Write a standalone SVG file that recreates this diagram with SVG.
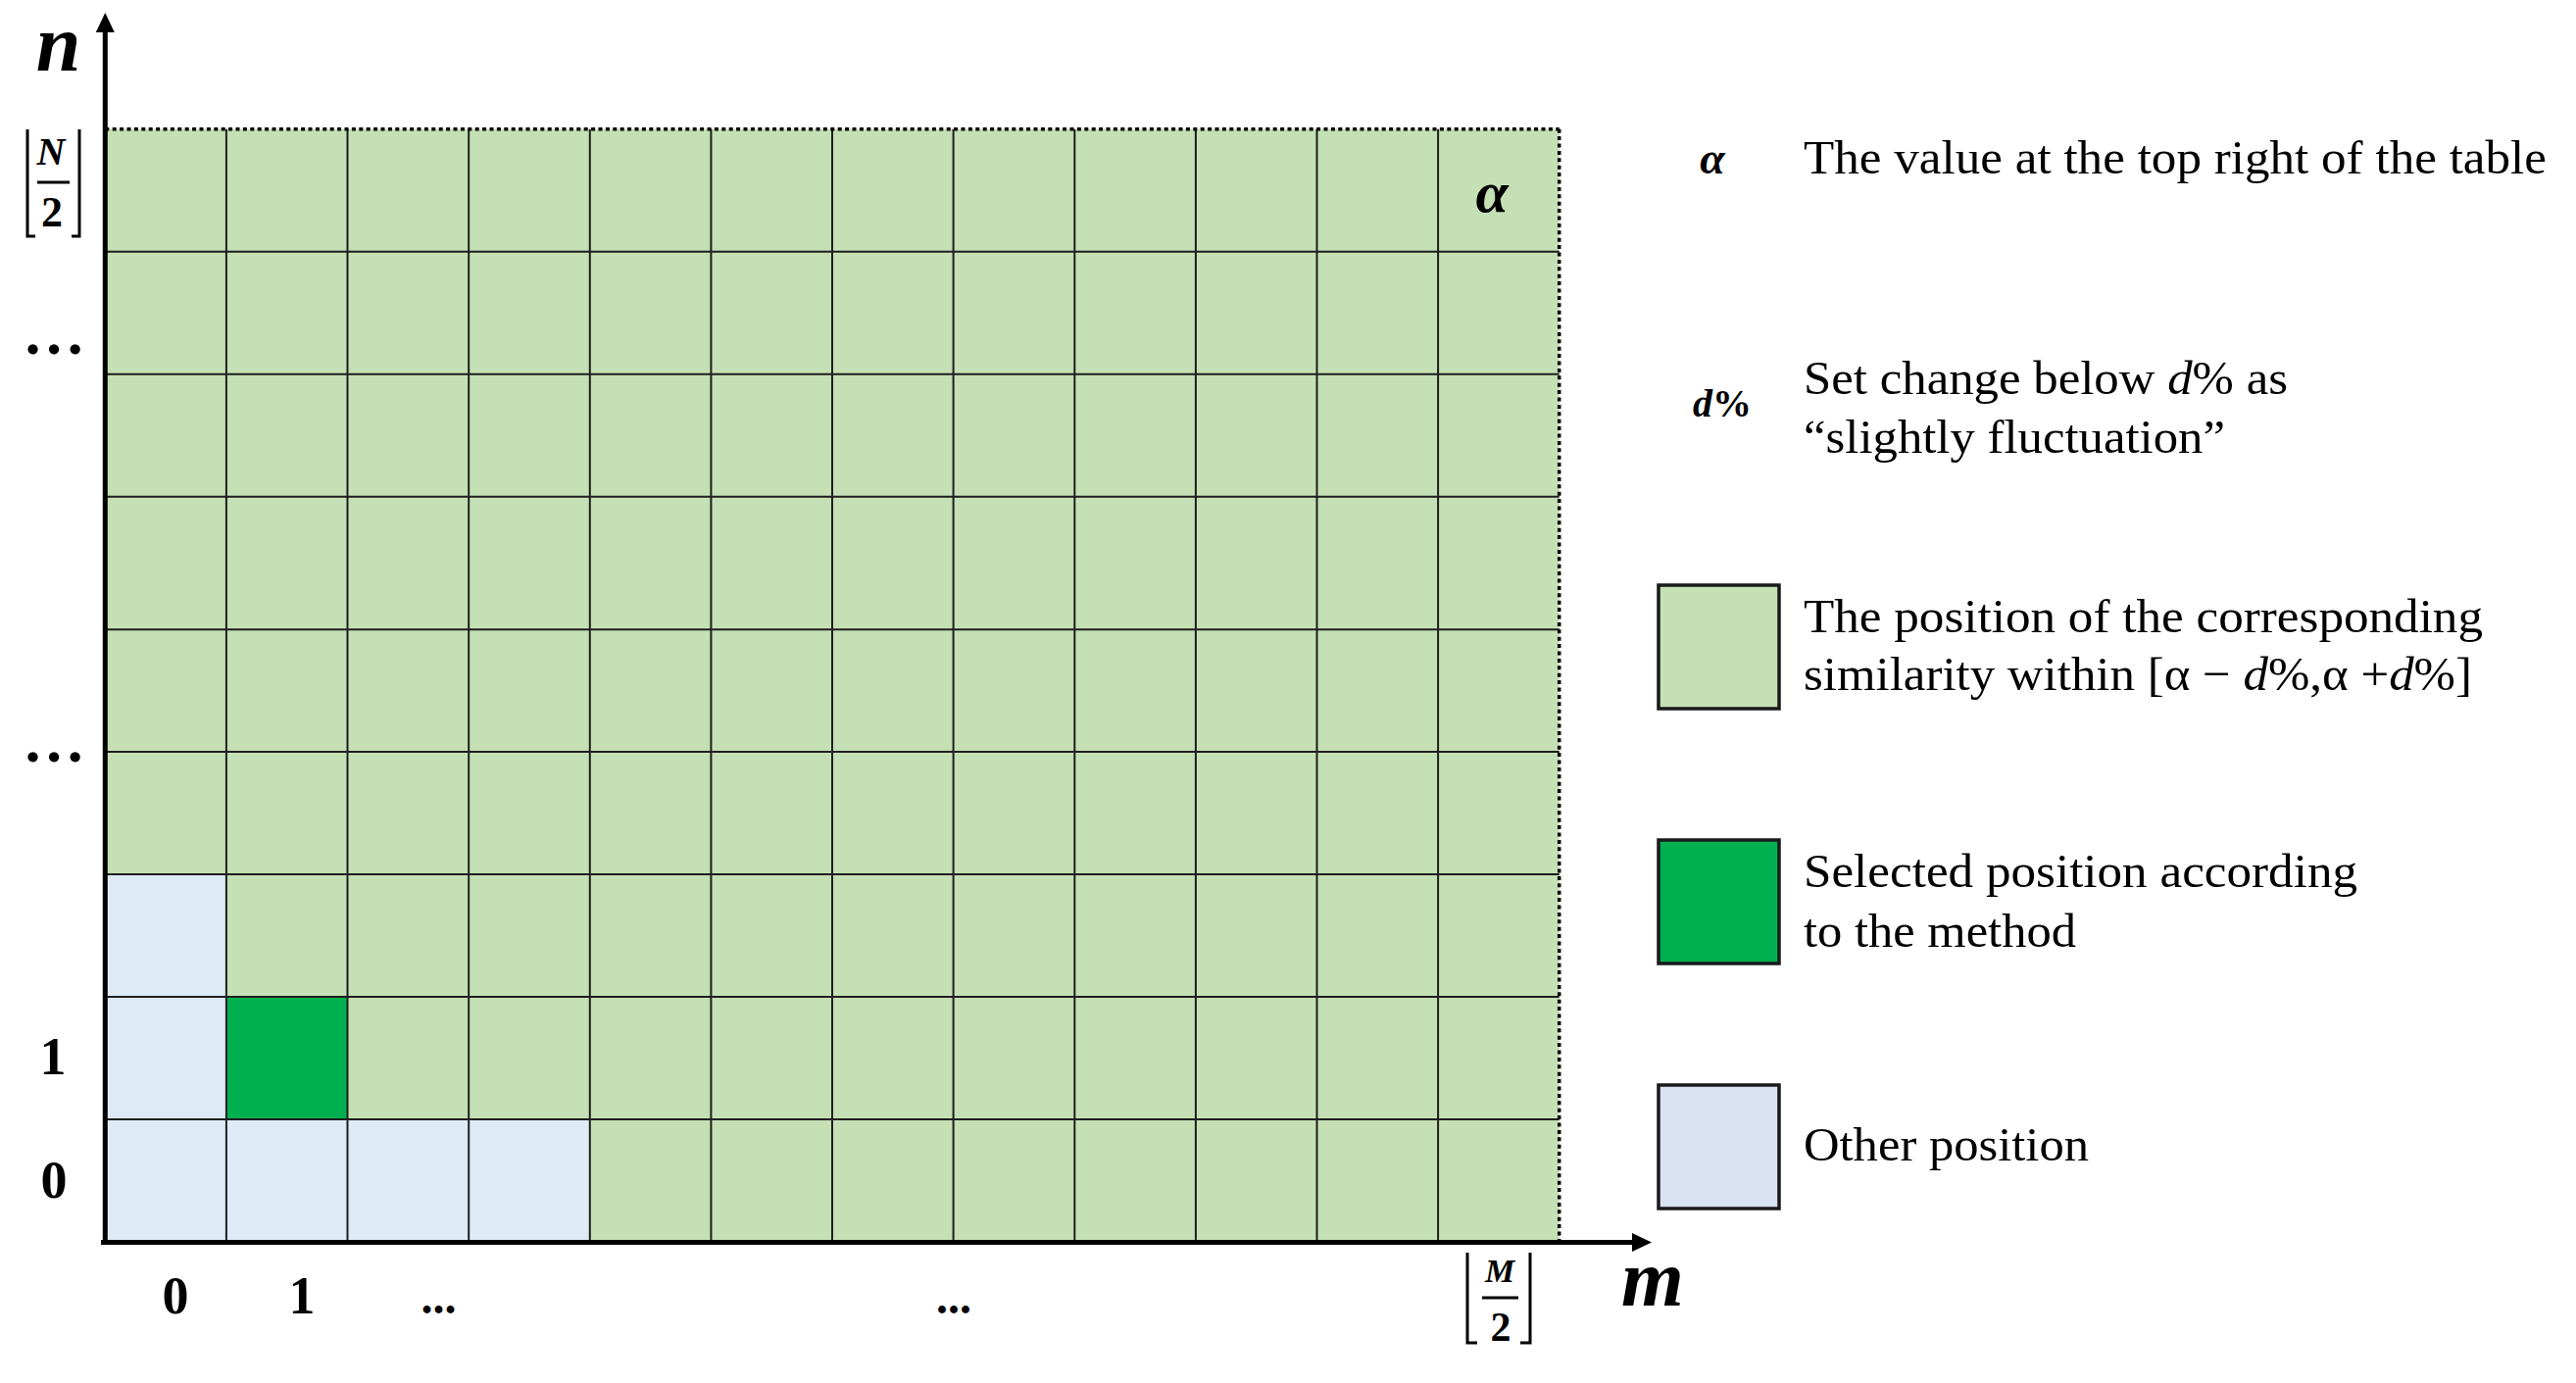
<svg xmlns="http://www.w3.org/2000/svg" width="2628" height="1411" viewBox="0 0 2628 1411">
  <style>
    .serif { font-family: "Liberation Serif", "Times New Roman", serif; fill: #000; }
    .math { font-family: "Liberation Serif", "Times New Roman", serif; font-weight: bold; font-style: italic; fill: #000; }
    .num { font-family: "Liberation Serif", "Times New Roman", serif; font-weight: bold; fill: #000; }
    .leg { font-family: "Liberation Serif", "Times New Roman", serif; font-size: 49px; fill: #000; }
    .grid { stroke: #1e1e1e; stroke-width: 2; fill: none; }
    .dotted { stroke: #000; stroke-width: 3.5; stroke-dasharray: 4 3.4; fill: none; }
    .axis { stroke: #000; stroke-width: 5; fill: none; }
    .bracket { stroke: #000; stroke-width: 3; fill: none; }
    .legbox { stroke: #1a1a1a; stroke-width: 3.5; }
    .lg { fill: #C5E0B4; }
    .dg { fill: #00B050; }
    .lb { fill: #DEEAF6; }
  </style>
  <defs>
    <marker id="arrow" markerUnits="userSpaceOnUse" viewBox="0 -10 20 20" markerWidth="20" markerHeight="20" refX="0" refY="0" orient="auto">
      <path d="M0,-9.5 L20,0 L0,9.5 z" fill="#000"/>
    </marker>
  </defs>
  <rect width="2628" height="1411" fill="#fff"/>

  <g id="table">
    <rect class="lg" x="107.3" y="131.7" width="1483.4" height="1135.8"/>
    <rect class="lb" x="107.3" y="892" width="123.6" height="375.5"/>
    <rect class="lb" x="230.9" y="1142" width="370.9" height="125.5"/>
    <rect id="selected-cell" class="dg" x="230.9" y="1017" width="123.6" height="125"/>
    <g class="grid">
      <line x1="230.9" y1="131.7" x2="230.9" y2="1267"/>
      <line x1="354.5" y1="131.7" x2="354.5" y2="1267"/>
      <line x1="478.2" y1="131.7" x2="478.2" y2="1267"/>
      <line x1="601.8" y1="131.7" x2="601.8" y2="1267"/>
      <line x1="725.4" y1="131.7" x2="725.4" y2="1267"/>
      <line x1="849.0" y1="131.7" x2="849.0" y2="1267"/>
      <line x1="972.6" y1="131.7" x2="972.6" y2="1267"/>
      <line x1="1096.3" y1="131.7" x2="1096.3" y2="1267"/>
      <line x1="1219.9" y1="131.7" x2="1219.9" y2="1267"/>
      <line x1="1343.5" y1="131.7" x2="1343.5" y2="1267"/>
      <line x1="1467.1" y1="131.7" x2="1467.1" y2="1267"/>
      <line x1="107.3" y1="256.7" x2="1590.7" y2="256.7"/>
      <line x1="107.3" y1="381.7" x2="1590.7" y2="381.7"/>
      <line x1="107.3" y1="506.7" x2="1590.7" y2="506.7"/>
      <line x1="107.3" y1="642.3" x2="1590.7" y2="642.3"/>
      <line x1="107.3" y1="767" x2="1590.7" y2="767"/>
      <line x1="107.3" y1="892" x2="1590.7" y2="892"/>
      <line x1="107.3" y1="1017" x2="1590.7" y2="1017"/>
      <line x1="107.3" y1="1142" x2="1590.7" y2="1142"/>
    </g>
    <line class="dotted" x1="107.3" y1="131.7" x2="1590.7" y2="131.7"/>
    <line class="dotted" x1="1590.7" y1="131.7" x2="1590.7" y2="1266"/>
    <text id="alpha-cell" class="math" x="1522" y="216" font-size="60" text-anchor="middle">α</text>
  </g>

  <g id="connectors">
    <line id="y-axis" class="axis" x1="107.3" y1="1270" x2="107.3" y2="33" stroke-width="4.5" marker-end="url(#arrow)"/>
    <line id="x-axis" class="axis" x1="103" y1="1267.5" x2="1665" y2="1267.5" marker-end="url(#arrow)"/>
  </g>

  <g id="axis-labels">
    <text class="math" x="59.5" y="72" font-size="82" text-anchor="middle">n</text>
    <text class="math" x="1686" y="1332" font-size="82" text-anchor="middle">m</text>
    <g id="floor-N2">
      <polyline class="bracket" points="28,132 28,241 36,241"/>
      <polyline class="bracket" points="73,241 81,241 81,132"/>
      <text class="math" x="52" y="168" font-size="40" text-anchor="middle">N</text>
      <line class="bracket" x1="38" y1="186" x2="71" y2="186"/>
      <text class="num" x="53" y="231" font-size="44" text-anchor="middle">2</text>
    </g>
    <g id="floor-M2">
      <polyline class="bracket" points="1497,1278 1497,1370 1507,1370"/>
      <polyline class="bracket" points="1551,1370 1561,1370 1561,1278"/>
      <text class="math" x="1530" y="1308" font-size="34" text-anchor="middle">M</text>
      <line class="bracket" x1="1512" y1="1324" x2="1549" y2="1324"/>
      <text class="num" x="1531" y="1368" font-size="42" text-anchor="middle">2</text>
    </g>
    <text class="num" x="55" y="361" font-size="64" text-anchor="middle">…</text>
    <text class="num" x="55" y="777" font-size="64" text-anchor="middle">…</text>
    <text class="num" x="54" y="1096" font-size="54" text-anchor="middle">1</text>
    <text class="num" x="55" y="1222" font-size="54" text-anchor="middle">0</text>
    <text class="num" x="179" y="1340" font-size="54" text-anchor="middle">0</text>
    <text class="num" x="308" y="1340" font-size="54" text-anchor="middle">1</text>
    <text class="num" x="447.5" y="1340" font-size="48" text-anchor="middle">...</text>
    <text class="num" x="973" y="1340" font-size="48" text-anchor="middle">...</text>
  </g>

  <g id="legend">
    <g id="legend-alpha">
      <text class="math" x="1747" y="177" font-size="46" text-anchor="middle">α</text>
      <text class="leg" x="1840" y="177" textLength="758" lengthAdjust="spacingAndGlyphs">The value at the top right of the table</text>
    </g>
    <g id="legend-d">
      <text class="num" x="1757" y="425" font-size="40" text-anchor="middle"><tspan font-style="italic">d</tspan>%</text>
      <text class="leg" x="1840" y="402" textLength="494" lengthAdjust="spacingAndGlyphs">Set change below <tspan font-style="italic">d</tspan>% as</text>
      <text class="leg" x="1840" y="462" textLength="430" lengthAdjust="spacingAndGlyphs">“slightly fluctuation”</text>
    </g>
    <g id="legend-range">
      <rect class="legbox lg" x="1692" y="597" width="123" height="126"/>
      <text class="leg" x="1840" y="645" textLength="693" lengthAdjust="spacingAndGlyphs">The position of the corresponding</text>
      <text class="leg" x="1840" y="704" textLength="682" lengthAdjust="spacingAndGlyphs">similarity within [α − <tspan font-style="italic">d</tspan>%,α +<tspan font-style="italic">d</tspan>%]</text>
    </g>
    <g id="legend-selected">
      <rect class="legbox dg" x="1692" y="857" width="123" height="126"/>
      <text class="leg" x="1840" y="905" textLength="565" lengthAdjust="spacingAndGlyphs">Selected position according</text>
      <text class="leg" x="1840" y="966" textLength="278" lengthAdjust="spacingAndGlyphs">to the method</text>
    </g>
    <g id="legend-other">
      <rect class="legbox" fill="#DAE3F3" x="1692" y="1107" width="123" height="126"/>
      <text class="leg" x="1840" y="1184" textLength="291" lengthAdjust="spacingAndGlyphs">Other position</text>
    </g>
  </g>
</svg>
